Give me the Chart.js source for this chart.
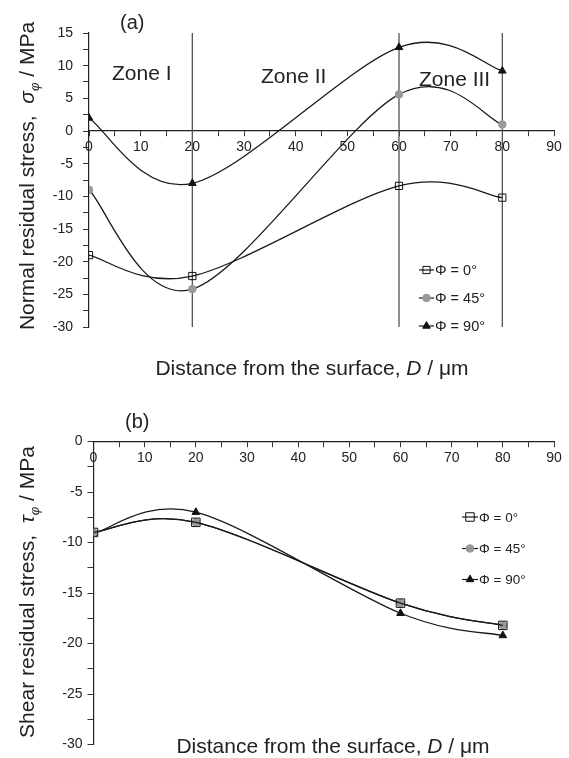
<!DOCTYPE html>
<html>
<head>
<meta charset="utf-8">
<script src="https://cdn.jsdelivr.net/npm/chart.js@4.4.1/dist/chart.umd.min.js"></script>
<style>
  html, body { margin: 0; padding: 0; background: #fff; }
  #wrap { position: relative; width: 569px; height: 758px; overflow: hidden; }
  .panel { position: absolute; left: 0; }
</style>
</head>
<body>
<div id="wrap">
  <div class="panel" style="top:0"><canvas id="chartA" width="569" height="380"></canvas></div>
  <div class="panel" style="top:380px"><canvas id="chartB" width="569" height="378"></canvas></div>
</div>
<script>
// --- data ---
const depth = [0, 20, 60, 80];                 // D / um
const normal0 = [-19, -22.2, -8.4, -10.2];     // (a) sigma, phi = 0
const normal45 = [-9, -24.2, 5.6, 1];          // (a) sigma, phi = 45
const normal90 = [2, -8, 12.8, 9.2];           // (a) sigma, phi = 90
const shear0 = [-9, -8, -16, -18.2];           // (b) tau, phi = 0
const shear45 = [-9, -8, -16, -18.2];          // (b) tau, phi = 45
const shear90 = [-9.1, -7, -17, -19.2];        // (b) tau, phi = 90
const zoneEdges = [20, 60, 80];
const zoneNames = ['Zone I', 'Zone II', 'Zone III'];
const seriesNames = ['\u03A6 = 0\u00B0', '\u03A6 = 45\u00B0', '\u03A6 = 90\u00B0'];
const xTickLabels = [0, 10, 20, 30, 40, 50, 60, 70, 80, 90];
const yTickLabelsA = [15, 10, 5, 0, -5, -10, -15, -20, -25, -30];
const yTickLabelsB = [0, -5, -10, -15, -20, -25, -30];

const FONT = '"Liberation Sans", Arial, Helvetica, sans-serif';
Chart.defaults.font.family = FONT;
Chart.defaults.color = '#222';

const f = (size, style) => (style ? style + ' ' : '') + size + 'px ' + FONT;
const pts = ys => depth.map((x, i) => ({ x: x, y: ys[i] }));

// marker looks, one per phi
function seriesStyle(i, big) {
  if (i === 0) return { pointStyle: 'rect', pointRadius: big ? 6 : 5.1, pointBackgroundColor: 'rgba(0,0,0,0)', pointBorderColor: '#111' };
  if (i === 1) return { pointStyle: 'circle', pointRadius: 3.8, pointBackgroundColor: '#999', pointBorderColor: '#999' };
  return { pointStyle: 'triangle', pointRadius: 4.4, pointBackgroundColor: '#111', pointBorderColor: '#111' };
}

function series(vals, big) {
  return vals.map((v, i) => Object.assign({
    label: seriesNames[i],
    data: pts(v),
    showLine: true,
    smooth: true,
    borderColor: '#1a1a1a',
    borderWidth: 1.3,
    tension: 0.4,
    pointBorderWidth: 1,
    pointHoverRadius: 0
  }, seriesStyle(i, big)));
}

// Excel-like smoothing: plain Catmull-Rom arms of (next - prev) / 6
const excelSmooth = {
  id: 'excelSmooth',
  beforeDatasetDraw(chart, args) {
    const ds = chart.data.datasets[args.index];
    if (!ds.smooth) return;
    const meta = args.meta;
    meta.dataset.updateControlPoints(chart.chartArea, 'x');
    const p = meta.data;
    const n = p.length;
    for (let i = 0; i < n; i++) {
      const prev = p[Math.max(i - 1, 0)];
      const next = p[Math.min(i + 1, n - 1)];
      const dx = (next.x - prev.x) / 6;
      const dy = (next.y - prev.y) / 6;
      p[i].cp1x = p[i].x - dx; p[i].cp1y = p[i].y - dy;
      p[i].cp2x = p[i].x + dx; p[i].cp2y = p[i].y + dy;
    }
  }
};

function drawMarker(ctx, style, x, y) {
  ctx.save();
  ctx.lineWidth = 1;
  ctx.strokeStyle = style.pointBorderColor;
  ctx.fillStyle = style.pointBackgroundColor;
  const r = style.pointRadius;
  ctx.beginPath();
  if (style.pointStyle === 'rect') {
    const s = r * Math.SQRT1_2;
    ctx.rect(x - s, y - s, 2 * s, 2 * s);
  } else if (style.pointStyle === 'circle') {
    ctx.arc(x, y, r, 0, Math.PI * 2);
  } else {
    ctx.moveTo(x, y - r);
    ctx.lineTo(x + r * 0.866, y + r * 0.5);
    ctx.lineTo(x - r * 0.866, y + r * 0.5);
    ctx.closePath();
  }
  ctx.fill();
  ctx.stroke();
  ctx.restore();
}

function drawRich(ctx, item) {
  ctx.save();
  ctx.translate(item.x, item.y);
  if (item.rot) ctx.rotate(item.rot * Math.PI / 180);
  let w = 0;
  item.parts.forEach(p => { ctx.font = p.font; w += ctx.measureText(p.text).width; });
  let cx = item.align === 'center' ? -w / 2 : 0;
  ctx.textAlign = 'left';
  ctx.textBaseline = 'alphabetic';
  ctx.fillStyle = '#222';
  item.parts.forEach(p => {
    ctx.font = p.font;
    ctx.fillText(p.text, cx, p.dy || 0);
    cx += ctx.measureText(p.text).width;
  });
  ctx.restore();
}

// texts + legend drawn on top of the chart
const decor = {
  id: 'decor',
  afterDraw(chart, args, opts) {
    const ctx = chart.ctx;
    (opts.texts || []).forEach(t => drawRich(ctx, t));
    const lg = opts.legend;
    if (!lg) return;
    lg.rows.forEach((ry, i) => {
      const ds = chart.data.datasets[i];
      ctx.save();
      ctx.strokeStyle = ds.borderColor;
      ctx.lineWidth = 1.2;
      ctx.beginPath();
      ctx.moveTo(lg.x1, ry);
      ctx.lineTo(lg.x2, ry);
      ctx.stroke();
      ctx.restore();
      drawMarker(ctx, ds, (lg.x1 + lg.x2) / 2, ry);
      ctx.save();
      ctx.font = f(lg.size);
      ctx.fillStyle = '#222';
      ctx.textBaseline = 'middle';
      ctx.fillText(ds.label, lg.x2 + 1, ry + 1);
      ctx.restore();
    });
  }
};

function axisX() {
  return {
    type: 'linear', min: 0, max: 90, position: { y: 0 },
    ticks: { stepSize: 5, autoSkip: false, maxRotation: 0, padding: 3, font: { size: 14 },
      callback: v => xTickLabels.includes(v) ? v : '' },
    grid: { drawOnChartArea: false, tickLength: 5, color: '#333', lineWidth: 1 },
    border: { color: '#222', width: 1.2 }
  };
}

function axisY(min, max, labels, width, gap) {
  return {
    min: min, max: max,
    ticks: { stepSize: 2.5, autoSkip: false, padding: gap, font: { size: 14 },
      callback: v => labels.includes(v) ? v : '' },
    grid: { drawOnChartArea: false, tickLength: 6, color: '#333', lineWidth: 1 },
    border: { color: '#222', width: 1.2 },
    afterFit: s => { s.width = width; }
  };
}

const titleParts = (lead, sym) => [
  { text: lead, font: f(21) },
  { text: sym, font: f(21, 'italic') },
  { text: '\u03C6', font: f(13, 'italic'), dy: 5 },
  { text: ' / MPa', font: f(21) }
];
const xTitleParts = [
  { text: 'Distance from the surface, ', font: f(21) },
  { text: 'D', font: f(21, 'italic') },
  { text: ' / \u03BCm', font: f(21) }
];

// (a) normal residual stress
const zoneLines = zoneEdges.map(x => ({
  data: [{ x: x, y: 15 }, { x: x, y: -30 }],
  showLine: true, borderColor: '#555', borderWidth: 1.3, pointRadius: 0, tension: 0
}));

new Chart(document.getElementById('chartA'), {
  type: 'scatter',
  data: { datasets: series([normal0, normal45, normal90], false).concat(zoneLines) },
  options: {
    responsive: false, animation: false, events: [],
    layout: { padding: { left: 0, right: 15, top: 33, bottom: 53 } },
    scales: { x: axisX(), y: axisY(-30, 15, yTickLabelsA, 89, 10) },
    plugins: {
      legend: { display: false }, tooltip: { enabled: false },
      decor: {
        texts: [
          { x: 120, y: 29, parts: [{ text: '(a)', font: f(20) }] },
          { x: 112, y: 80, parts: [{ text: zoneNames[0], font: f(21) }] },
          { x: 261, y: 83, parts: [{ text: zoneNames[1], font: f(21) }] },
          { x: 419, y: 86, parts: [{ text: zoneNames[2], font: f(21) }] },
          { x: 33.5, y: 176, rot: -90, align: 'center', parts: titleParts('Normal residual stress,  ', '\u03C3') },
          { x: 312, y: 375, align: 'center', parts: xTitleParts }
        ],
        legend: { x1: 419, x2: 434, rows: [270, 298, 326], size: 14.5 }
      }
    }
  },
  plugins: [excelSmooth, decor]
});

// (b) shear residual stress
new Chart(document.getElementById('chartB'), {
  type: 'scatter',
  data: { datasets: series([shear0, shear45, shear90], true) },
  options: {
    responsive: false, animation: false, events: [],
    layout: { padding: { left: 0, right: 15, top: 61.5, bottom: 8 } },
    scales: { x: axisX(), y: axisY(-30, 0, yTickLabelsB, 93.5, 5) },
    plugins: {
      legend: { display: false }, tooltip: { enabled: false },
      decor: {
        texts: [
          { x: 125, y: 48, parts: [{ text: '(b)', font: f(20) }] },
          { x: 33.5, y: 212, rot: -90, align: 'center', parts: titleParts('Shear residual stress,  ', '\u03C4') },
          { x: 333, y: 373, align: 'center', parts: xTitleParts }
        ],
        legend: { x1: 462, x2: 478, rows: [137, 168.5, 199.5], size: 13.5 }
      }
    }
  },
  plugins: [excelSmooth, decor]
});
</script>
</body>
</html>
